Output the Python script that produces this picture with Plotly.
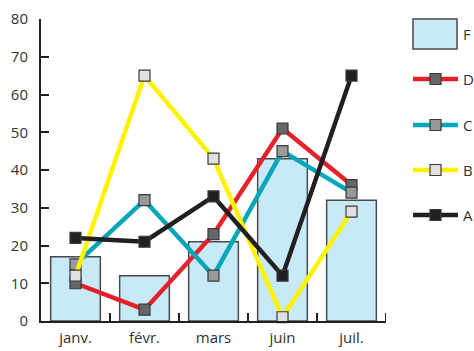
import plotly.graph_objects as go

months = ["janv.", "févr.", "mars", "juin", "juil."]
F = [17, 12, 21, 43, 32]
D = [10, 3, 23, 51, 36]
C = [15, 32, 12, 45, 34]
B = [12, 65, 43, 1, 29]
A = [22, 21, 33, 12, 65]
y_ticks = [0, 10, 20, 30, 40, 50, 60, 70, 80]
xpos = list(range(len(months)))
boundaries = [i + 0.5 for i in xpos]

series = [
    ("D", D, "#e8202a", "#666666"),
    ("C", C, "#05a6b8", "#999999"),
    ("B", B, "#fff200", "#e0e0e0"),
    ("A", A, "#231f20", "#231f20"),
]

fig = go.Figure()
fig.add_trace(go.Bar(x=xpos, y=F, name="F", width=0.72,
                     marker=dict(color="#c8e9f8", line=dict(color="#4a4a4a", width=1.5))))
for name, vals, lc, mc in series:
    fig.add_trace(go.Scatter(x=xpos, y=vals, name=name, mode="lines+markers",
                             line=dict(color=lc, width=4.5),
                             marker=dict(symbol="square", size=11, color=mc,
                                         line=dict(color="#3a3a3a", width=1.2)),
                             cliponaxis=False))

font = dict(family="Open Sans, Liberation Sans, sans-serif", size=15, color="#333333")

# manual legend (paper coordinates)
W, H = 474, 351
l, r, t, b = 41, 88, 19, 30
pw, ph = W - l - r, H - t - b
def px(x):
    return (x - l) / pw
def py(y):
    return 1 - (y - t) / ph

shapes = [dict(type="rect", xref="paper", yref="paper", x0=px(413), x1=px(457), y0=py(49), y1=py(19),
               fillcolor="#c8e9f8", line=dict(color="#4a4a4a", width=1.5))]
# category-boundary tick marks on the x axis
for bnd in boundaries:
    shapes.append(dict(type="line", xref="x", yref="paper", x0=bnd, x1=bnd, y0=0, y1=8 / ph,
                       line=dict(color="#231f20", width=2), layer="above"))
annotations = [dict(xref="paper", yref="paper", x=px(461), y=py(34), text="F", showarrow=False,
                    xanchor="left", yanchor="middle", font=dict(font, size=15))]
leg_y = {"D": 79, "C": 125, "B": 170, "A": 215}
for name, vals, lc, mc in series:
    yy = leg_y[name]
    shapes.append(dict(type="line", xref="paper", yref="paper", x0=px(413), x1=px(458), y0=py(yy), y1=py(yy),
                       line=dict(color=lc, width=4.5)))
    shapes.append(dict(type="rect", xref="paper", yref="paper", x0=px(430), x1=px(441), y0=py(yy + 5.5), y1=py(yy - 5.5),
                       fillcolor=mc, line=dict(color="#3a3a3a", width=1.2)))
    annotations.append(dict(xref="paper", yref="paper", x=px(461), y=py(yy), text=name, showarrow=False,
                            xanchor="left", yanchor="middle", font=dict(font, size=15)))

fig.update_layout(
    width=W, height=H, margin=dict(l=l, r=r, t=t, b=b),
    paper_bgcolor="white", plot_bgcolor="white",
    showlegend=False, font=font,
    shapes=shapes, annotations=annotations,
    xaxis=dict(type="linear", range=[-0.5, 4.5], tickvals=xpos, ticktext=months,
               showline=True, linecolor="#231f20", linewidth=2,
               ticks="", showgrid=False, zeroline=False, tickfont=font, automargin=False,
               ticklabelstandoff=2, layer="above traces"),
    yaxis=dict(range=[0, 80], tickvals=y_ticks, showline=True, linecolor="#231f20", linewidth=2,
               ticks="inside", ticklen=8, tickwidth=2, tickcolor="#231f20",
               showgrid=False, zeroline=False, tickfont=font, ticklabelstandoff=8,
               automargin=False),
)

fig.write_html("out.html")
